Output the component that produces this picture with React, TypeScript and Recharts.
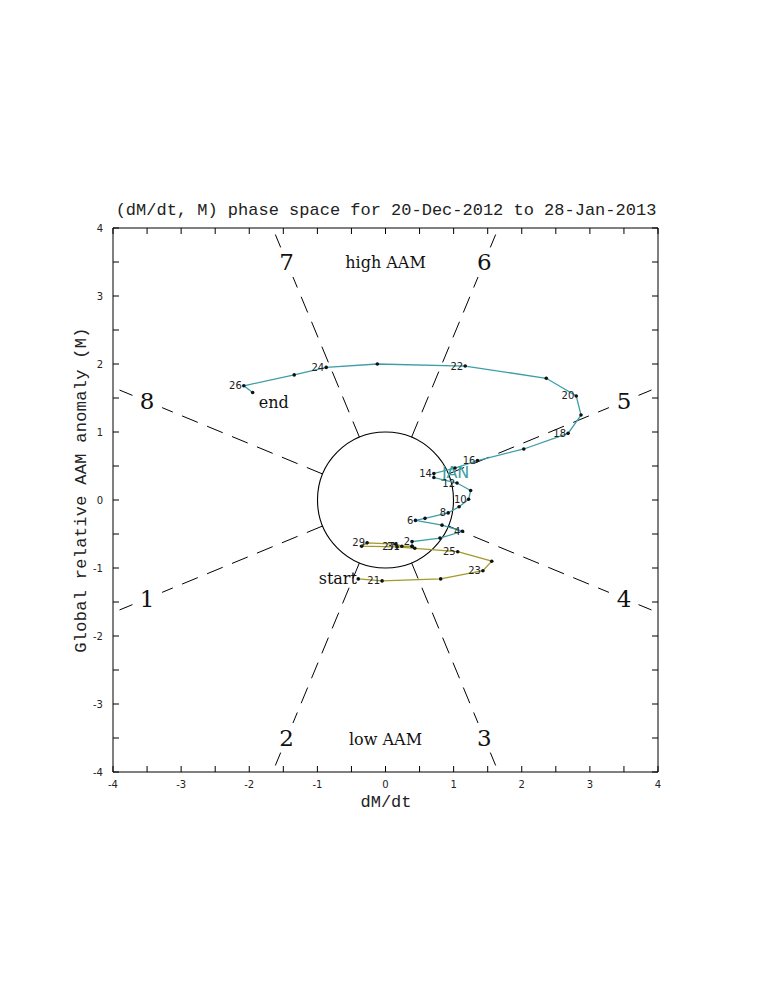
// AAM phase space — (dM/dt, M) trajectory, 20-Dec-2012 .. 28-Jan-2013
import {
  ScatterChart, Scatter, XAxis, YAxis, ReferenceLine, ReferenceDot, ReferenceArea,
} from "recharts";

// Dec 20 .. Dec 31, then Jan 1 (joins the January track)
const DEC_DAYS = ["20", "21", "22", "23", "24", "25", "26", "27", "28", "29", "30", "31", "1"];
const DEC_X = [-0.40, -0.05, 0.81, 1.43, 1.56, 1.06, 0.43, 0.17, -0.35, -0.27, 0.15, 0.24, 0.39];
const DEC_Y = [-1.16, -1.19, -1.16, -1.04, -0.90, -0.76, -0.71, -0.69, -0.68, -0.63, -0.65, -0.68, -0.68];
const DEC_LABELLED = ["21", "23", "25", "27", "29", "31"];

// Jan 1 .. Jan 27
const JAN_DAYS = [
  "1", "2", "3", "4", "5", "6", "7", "8", "9", "10", "11", "12", "13", "14",
  "15", "16", "17", "18", "19", "20", "21", "22", "23", "24", "25", "26", "27",
];
const JAN_X = [
  0.39, 0.39, 0.80, 1.13, 0.83, 0.44, 0.58, 0.92, 1.08, 1.22, 1.25, 1.05, 0.71, 0.71,
  1.02, 1.35, 2.03, 2.68, 2.87, 2.80, 2.36, 1.17, -0.12, -0.87, -1.34, -2.08, -1.95,
];
const JAN_Y = [
  -0.68, -0.61, -0.56, -0.46, -0.37, -0.30, -0.27, -0.19, -0.10, 0.01, 0.14, 0.25, 0.33, 0.39,
  0.47, 0.58, 0.75, 0.98, 1.25, 1.53, 1.79, 1.97, 2.00, 1.95, 1.84, 1.68, 1.58,
];
const JAN_LABELLED = ["2", "4", "6", "8", "10", "12", "14", "16", "18", "20", "22", "24", "26"];

const TICKS = [-4, -3.5, -3, -2.5, -2, -1.5, -1, -0.5, 0, 0.5, 1, 1.5, 2, 2.5, 3, 3.5, 4];
const PHASES = ["5", "6", "7", "8", "1", "2", "3", "4"];
const PHASE_ANGLES = [22.5, 67.5, 112.5, 157.5, 202.5, 247.5, 292.5, 337.5];

const TEAL = "#3c9ea6";
const OLIVE = "#a39a2c";
const W = 773, H = 1000;
const LEFT = 113, RIGHT = 658, TOP = 228, BOTTOM = 772;
const TICK_LEN = 6;
const deg = Math.PI / 180;

const build = (days: string[], xs: number[], ys: number[], shown: string[]) =>
  days.map((d, i) => ({ x: xs[i], y: ys[i], label: shown.includes(d) ? d : "" }));

const decData = build(DEC_DAYS, DEC_X, DEC_Y, DEC_LABELLED);
const janData = build(JAN_DAYS, JAN_X, JAN_Y, JAN_LABELLED);

const dayDot = (p: any) => (
  <g>
    <circle cx={p.cx} cy={p.cy} r={1.8} fill="#111" />
    {p.payload?.label ? (
      <text x={p.cx - 2} y={p.cy + 3.5} textAnchor="end" fontSize={10}
        fontFamily="DejaVu Sans, sans-serif" fill="#222">{p.payload.label}</text>
    ) : null}
  </g>
);

const note = (text: string, size: number, family: string, color = "#111") => (props: any) => {
  const vb = props.viewBox || {};
  const cx = (vb.x ?? 0) + (vb.width ?? 0) / 2;
  const cy = (vb.y ?? 0) + (vb.height ?? 0) / 2;
  return (
    <text x={cx} y={cy} textAnchor="middle" dominantBaseline="central"
      fontSize={size} fontFamily={family} fill={color}>{text}</text>
  );
};

const xTick = (p: any) => {
  const v = p.payload.value;
  return (
    <g>
      <line x1={p.x} y1={BOTTOM} x2={p.x} y2={BOTTOM - TICK_LEN} stroke="#000" />
      <line x1={p.x} y1={TOP} x2={p.x} y2={TOP + TICK_LEN} stroke="#000" />
      {Number.isInteger(v) ? (
        <text x={p.x} y={BOTTOM + 16} textAnchor="middle" fontSize={10}
          fontFamily="DejaVu Sans, sans-serif" fill="#222">{v}</text>
      ) : null}
    </g>
  );
};

const yTick = (p: any) => {
  const v = p.payload.value;
  return (
    <g>
      <line x1={LEFT} y1={p.y} x2={LEFT + TICK_LEN} y2={p.y} stroke="#000" />
      <line x1={RIGHT} y1={p.y} x2={RIGHT - TICK_LEN} y2={p.y} stroke="#000" />
      {Number.isInteger(v) ? (
        <text x={LEFT - 10} y={p.y + 4} textAnchor="end" fontSize={10}
          fontFamily="DejaVu Sans, sans-serif" fill="#222">{v}</text>
      ) : null}
    </g>
  );
};

const MONO = "Liberation Mono, DejaVu Sans Mono, monospace";
const SERIF = "DejaVu Serif, serif";

const titles = () => (
  <g fill="#222" fontFamily={MONO}>
    <text x={386} y={210} textAnchor="middle" dominantBaseline="central" fontSize={17}>
      (dM/dt, M) phase space for 20-Dec-2012 to 28-Jan-2013
    </text>
    <text x={386} y={802} textAnchor="middle" dominantBaseline="central" fontSize={17}>
      dM/dt
    </text>
    <text x={0} y={0} transform="translate(81 490) rotate(-90)" textAnchor="middle"
      dominantBaseline="central" fontSize={17} letterSpacing={0.3}>
      Global relative AAM anomaly (M)
    </text>
  </g>
);

export default function App() {
  return (
    <div style={{ position: "absolute", left: 0, top: 0, width: W, height: H, background: "#fff" }}>
      <ScatterChart width={W} height={H}
        margin={{ top: TOP, right: W - RIGHT, bottom: H - BOTTOM - 30, left: LEFT - 40 }}>
        <XAxis type="number" dataKey="x" domain={[-4, 4]} ticks={TICKS} interval={0}
          axisLine={false} tickLine={false} tick={xTick} height={30} allowDataOverflow
          label={{ content: titles }} />
        <YAxis type="number" dataKey="y" domain={[-4, 4]} ticks={TICKS} interval={0}
          axisLine={false} tickLine={false} tick={yTick} width={40} allowDataOverflow />
        <ReferenceArea x1={-4} x2={4} y1={-4} y2={4} fill="none" stroke="#000" strokeWidth={1}
          fillOpacity={0} />
        {PHASE_ANGLES.map((a) => {
          const c = Math.cos(a * deg), s = Math.sin(a * deg);
          const rEdge = 4 / Math.max(Math.abs(c), Math.abs(s));
          return [
            <ReferenceLine key={`a${a}`} segment={[{ x: c, y: s }, { x: 3.55 * c, y: 3.55 * s }]}
              stroke="#000" strokeDasharray="17 10" ifOverflow="visible" />,
            <ReferenceLine key={`b${a}`} segment={[{ x: 4.02 * c, y: 4.02 * s }, { x: rEdge * c, y: rEdge * s }]}
              stroke="#000" strokeDasharray="14 10" ifOverflow="visible" />,
          ];
        })}
        <ReferenceDot x={0} y={0} r={68} fill="none" stroke="#000" strokeWidth={1.1} />
        {PHASES.map((ph, i) => {
          const a = PHASE_ANGLES[i] * deg;
          return (
            <ReferenceDot key={`p${ph}`} x={3.79 * Math.cos(a)} y={3.79 * Math.sin(a)} r={0}
              fill="none" stroke="none" label={{ content: note(ph, 23, SERIF) }} />
          );
        })}
        <ReferenceDot x={0} y={3.5} r={0} fill="none" stroke="none"
          label={{ content: note("high AAM", 16, SERIF) }} />
        <ReferenceDot x={0} y={-3.52} r={0} fill="none" stroke="none"
          label={{ content: note("low AAM", 16, SERIF) }} />
        <ReferenceDot x={-0.7} y={-1.15} r={0} fill="none" stroke="none"
          label={{ content: note("start", 16, SERIF) }} />
        <ReferenceDot x={-1.64} y={1.43} r={0} fill="none" stroke="none"
          label={{ content: note("end", 16, SERIF) }} />
        <ReferenceDot x={1.03} y={0.41} r={0} fill="none" stroke="none"
          label={{ content: note("JAN", 16, "DejaVu Sans, sans-serif", TEAL) }} />
        <Scatter data={decData} line={{ stroke: OLIVE, strokeWidth: 1.3 }} lineType="joint"
          shape={dayDot} isAnimationActive={false} />
        <Scatter data={janData} line={{ stroke: TEAL, strokeWidth: 1.3 }} lineType="joint"
          shape={dayDot} isAnimationActive={false} />
      </ScatterChart>
    </div>
  );
}
